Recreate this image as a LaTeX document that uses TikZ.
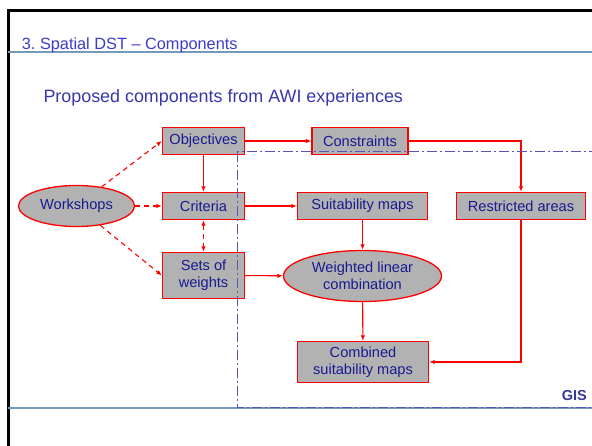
\documentclass[tikz,border=0pt]{standalone}
\usepackage{fontspec}
\setmainfont{Liberation Sans}
\usetikzlibrary{shapes.geometric,arrows.meta}
\frenchspacing
\definecolor{boxfill}{RGB}{178,178,178}
\definecolor{boxtext}{RGB}{26,26,145}
\definecolor{titleblue}{RGB}{60,60,200}
\definecolor{subblue}{RGB}{55,55,170}
\definecolor{rulegray}{RGB}{115,155,185}
\definecolor{gisblue}{RGB}{55,55,150}
\definecolor{framedash}{RGB}{85,85,185}

\begin{document}
\begin{tikzpicture}[x=1pt,y=-1pt,
  nodefont/.style={font=\fontsize{14.6}{16.8}\selectfont},
  comp/.style={rectangle, draw=red, line width=1.3pt, fill=boxfill, text=boxtext,
    nodefont, align=center, inner sep=0pt},
  oval/.style={ellipse, draw=red, line width=1.3pt, fill=boxfill, text=boxtext,
    nodefont, align=center, inner sep=0pt},
  tip/.tip={Latex[length=5.5pt,width=4.5pt]},
  flow/.style={draw=red, line width=1.1pt, -tip},
  link/.style={flow, dash pattern=on 5pt off 4pt},
  rulebar/.style={draw=rulegray, line width=1.8pt},
  gisframe/.style={draw=framedash, line width=1pt, dash pattern=on 10pt off 3pt on 2pt off 3pt},
]
\useasboundingbox (0,0) rectangle (592,446);

% slide frame and rules
\draw[line width=3pt, black] (8.5,446) -- (8.5,10.5) -- (592,10.5);
\draw[rulebar] (8,52) -- (592,52);
\draw[rulebar] (8,408) -- (592,408);

% headings
\node[anchor=base west, inner sep=0pt, text=titleblue, font=\fontsize{16.3}{18}\selectfont]
  (title) at (21.7,49.3) {3. Spatial DST -- Components};
\node[anchor=base west, inner sep=0pt, text=subblue, font=\fontsize{17.9}{20}\selectfont]
  (subtitle) at (43.3,102.7) {Proposed components from AWI experiences};

% components
\node[oval, minimum width=116pt, minimum height=41pt] (ws) at (76.5,206) {Workshops};
\node[comp, minimum width=82pt, minimum height=27pt] (obj) at (203.5,141) {Objectives};
\node[comp, minimum width=82pt, minimum height=27pt] (crit) at (203.5,206) {Criteria};
\node[comp, minimum width=82pt, minimum height=46pt] (sets) at (203.5,275.5) {Sets of\\weights};
\node[comp, minimum width=96pt, minimum height=27pt] (cons) at (360,141) {Constraints};
\node[comp, minimum width=130pt, minimum height=27pt] (suit) at (362.5,206) {Suitability maps};
\node[comp, minimum width=129pt, minimum height=27pt] (restr) at (521,206) {Restricted areas};
\node[oval, minimum width=158pt, minimum height=51pt] (wlc) at (362.5,276) {Weighted linear\\combination};
\node[comp, minimum width=131pt, minimum height=41pt] (comb) at (363,362) {Combined\\suitability maps};

% connectors
\draw[link] (ws) -- (obj.west);
\draw[link] (ws) -- (crit);
\draw[link] (ws) -- (sets.west);
\draw[flow] (obj) -- (crit);
\draw[link, tip-tip] (crit) -- (sets);
\draw[flow] (obj) -- (cons);
\draw[flow] (crit) -- (suit);
\draw[flow] (sets) -- (wlc);
\draw[flow] (suit) -- (wlc);
\draw[flow] (wlc) -- (comb);
\draw[flow] (cons.east) -| (restr.north);
\draw[flow] (restr.south) |- (comb.east);

% GIS region
\coordinate (gisNW) at (237,152);
\coordinate (gisSE) at (604,407);
\draw[gisframe] (gisNW) rectangle (gisSE);
\node[anchor=base east, inner sep=0pt, text=gisblue, font=\bfseries\fontsize{14.5}{16}\selectfont]
  (gis) at (587,400.7) {GIS};
\end{tikzpicture}
\end{document}
